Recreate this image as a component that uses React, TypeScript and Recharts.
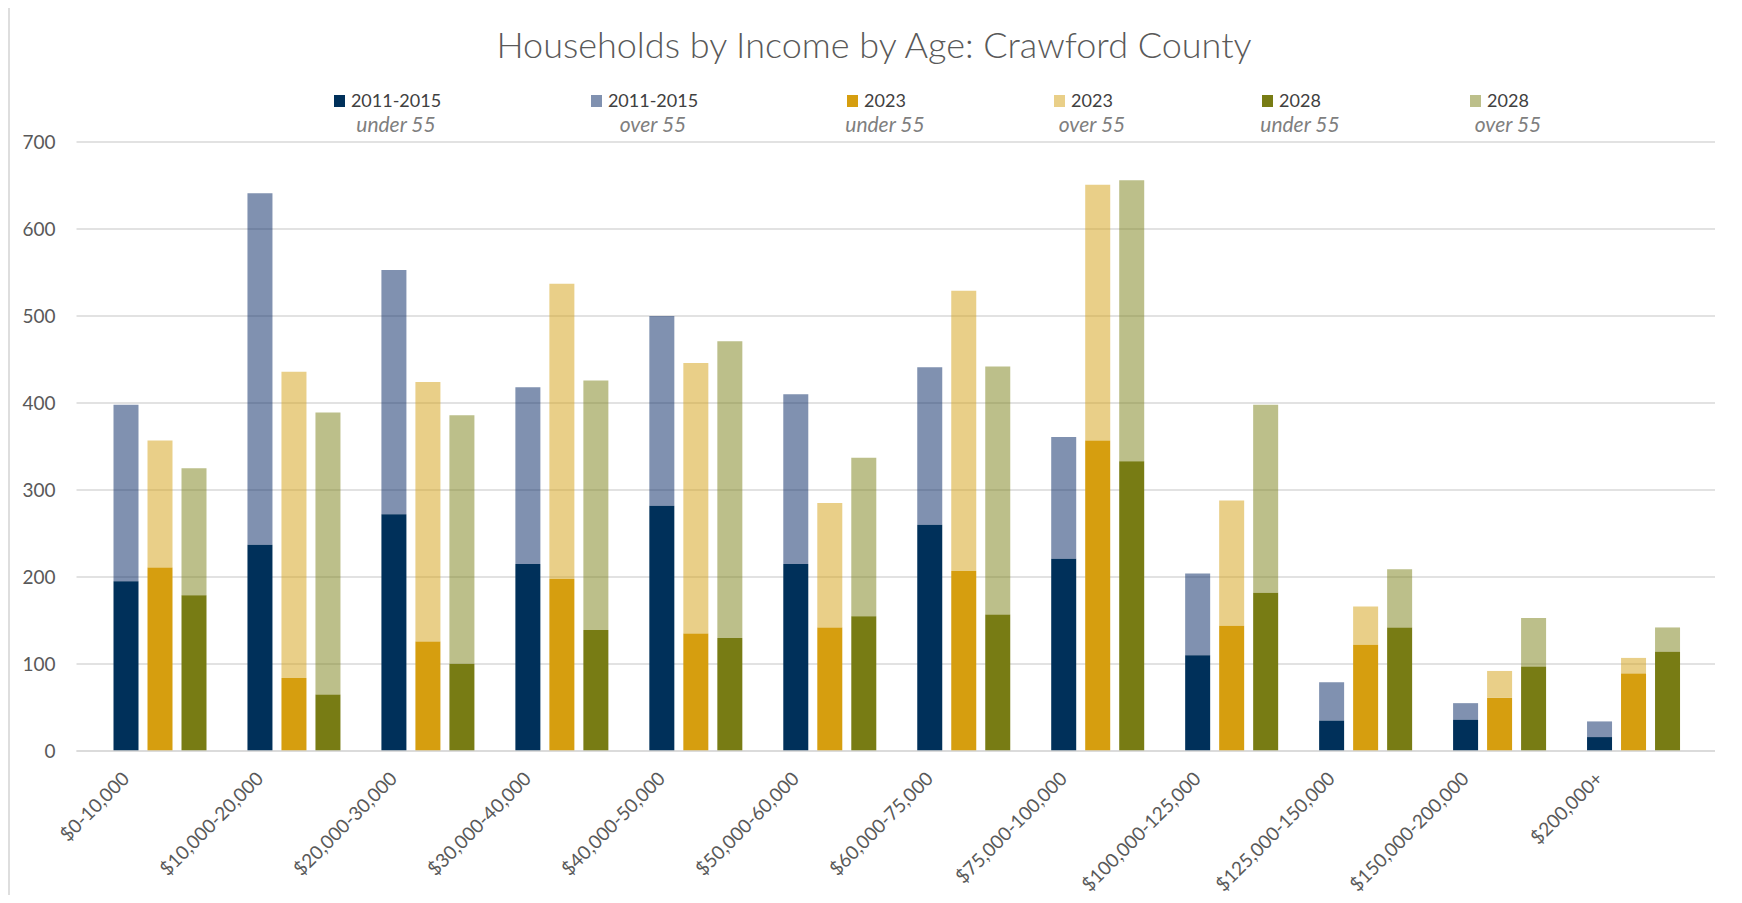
import React from "react";
import { BarChart, Bar, XAxis, YAxis, CartesianGrid } from "recharts";

const categories = [
  "$0-10,000",
  "$10,000-20,000",
  "$20,000-30,000",
  "$30,000-40,000",
  "$40,000-50,000",
  "$50,000-60,000",
  "$60,000-75,000",
  "$75,000-100,000",
  "$100,000-125,000",
  "$125,000-150,000",
  "$150,000-200,000",
  "$200,000+",
];

const under2011 = [195, 237, 272, 215, 282, 215, 260, 221, 110, 35, 36, 16];
const over2011 = [203, 404, 281, 203, 218, 195, 181, 140, 94, 44, 19, 18];
const under2023 = [211, 84, 126, 198, 135, 142, 207, 357, 144, 122, 61, 89];
const over2023 = [146, 352, 298, 339, 311, 143, 322, 294, 144, 44, 31, 18];
const under2028 = [179, 65, 100, 139, 130, 155, 157, 333, 182, 142, 97, 114];
const over2028 = [146, 324, 286, 287, 341, 182, 285, 323, 216, 67, 56, 28];

const yTicks = [0, 100, 200, 300, 400, 500, 600, 700];

const legendItems = [
  { year: "2011-2015", age: "under 55", color: "#00305A", opacity: 1 },
  { year: "2011-2015", age: "over 55", color: "#012361", opacity: 0.5 },
  { year: "2023", age: "under 55", color: "#D69E0F", opacity: 1 },
  { year: "2023", age: "over 55", color: "#D39F11", opacity: 0.5 },
  { year: "2028", age: "under 55", color: "#787C14", opacity: 1 },
  { year: "2028", age: "over 55", color: "#797F15", opacity: 0.5 },
];
const legendCenters = [396, 653, 885, 1092, 1300, 1508];

const data = categories.map((c, i) => ({
  name: c,
  u2011: under2011[i],
  o2011: over2011[i],
  u2023: under2023[i],
  o2023: over2023[i],
  u2028: under2028[i],
  o2028: over2028[i],
}));

const FONT = "Lato, 'Open Sans', sans-serif";

const XTick = (props: any) => {
  const { x, y, payload } = props;
  const ax = x - 29;
  const ay = y + 29;
  return (
    <text
      x={ax}
      y={ay}
      textAnchor="end"
      fill="#595959"
      fontSize={19}
      fontFamily={FONT}
      transform={`rotate(-45, ${ax}, ${ay})`}
    >
      {payload.value}
    </text>
  );
};

export default function App() {
  return (
    <div
      style={{
        position: "relative",
        width: 1742,
        height: 903,
        margin: -8,
        overflow: "hidden",
        background: "#fff",
        fontFamily: FONT,
      }}
    >
      <div
        style={{
          position: "absolute",
          left: 8,
          top: 4,
          width: 1731,
          height: 1000,
          border: "2px solid #dedede",
        }}
      />
      <div
        style={{
          position: "absolute",
          left: 0,
          top: 22,
          width: 1748,
          textAlign: "center",
          fontSize: 36,
          fontWeight: 300,
          color: "#595959",
          lineHeight: "44px",
        }}
      >
        Households by Income by Age: Crawford County
      </div>
      {legendItems.map((it, i) => (
        <div
          key={i}
          style={{
            position: "absolute",
            left: legendCenters[i] - 100,
            width: 200,
            top: 88,
            textAlign: "center",
          }}
        >
          <div style={{ fontSize: 18, lineHeight: "24px", color: "#404040" }}>
            <span style={{ position: "relative" }}>
              <span
                style={{
                  position: "absolute",
                  left: -17,
                  top: 6,
                  width: 11,
                  height: 12,
                  background: it.color,
                  opacity: it.opacity,
                }}
              />
              {it.year}
            </span>
          </div>
          <div
            style={{
              fontSize: 21,
              lineHeight: "24px",
              color: "#7f7f7f",
              fontStyle: "italic",
            }}
          >
            {it.age}
          </div>
        </div>
      ))}
      <div style={{ position: "absolute", left: 0, top: 0 }}>
        <BarChart
          width={1742}
          height={903}
          data={data}
          margin={{ top: 142, right: 27, bottom: 2, left: 0 }}
          barCategoryGap={21}
          barGap={9}
        >
          <CartesianGrid vertical={false} stroke="#d9d9d9" strokeWidth={1.5} />
          <XAxis
            dataKey="name"
            height={150}
            padding={{ left: 16, right: 15 }}
            tickLine={false}
            tickSize={0}
            tickMargin={0}
            axisLine={{ stroke: "#d9d9d9", strokeWidth: 1.5 }}
            tick={<XTick />}
            interval={0}
          />
          <YAxis
            width={76.5}
            domain={[0, 700]}
            ticks={yTicks}
            tickLine={false}
            axisLine={false}
            tickSize={0}
            tickMargin={21}
            tick={{ fill: "#595959", fontSize: 19, fontFamily: FONT }}
          />
          <Bar dataKey="u2011" stackId="a" fill="#00305A" isAnimationActive={false} />
          <Bar dataKey="o2011" stackId="a" fill="#012361" fillOpacity={0.5} isAnimationActive={false} />
          <Bar dataKey="u2023" stackId="b" fill="#D69E0F" isAnimationActive={false} />
          <Bar dataKey="o2023" stackId="b" fill="#D39F11" fillOpacity={0.5} isAnimationActive={false} />
          <Bar dataKey="u2028" stackId="c" fill="#787C14" isAnimationActive={false} />
          <Bar dataKey="o2028" stackId="c" fill="#797F15" fillOpacity={0.5} isAnimationActive={false} />
        </BarChart>
      </div>
    </div>
  );
}
